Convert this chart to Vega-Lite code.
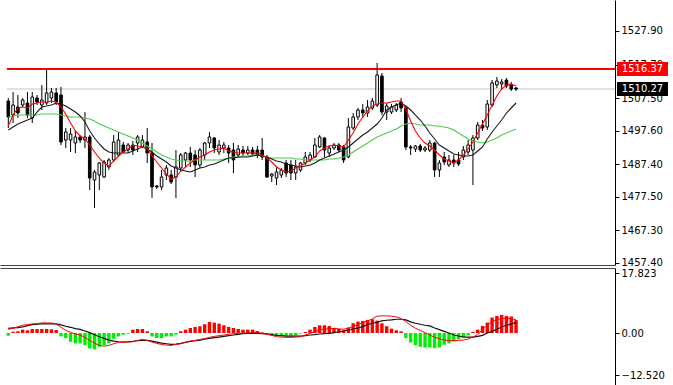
{
"$schema":"https://vega.github.io/schema/vega-lite/v6.json",
"padding":{"left":0,"top":0,"right":60,"bottom":0},
"background":"white",
"bounds":"flush",
"spacing":3,
"config":{"view":{"stroke":null},"axis":{"labelFont":"DejaVu Sans","labelFontSize":10,"labelColor":"#000","tickColor":"#000","domainColor":"#000","tickSize":4,"labelPadding":2,"labelOverlap":false,"labelFlush":false,"labelBound":false,"grid":false}},
"datasets":{
"candles":[
{"i":0,"o":1506.63,"h":1507.54,"l":1498.42,"c":1501.76,"mr":1499.03,"mk":1497.81,"mg":1501.76},
{"i":1,"o":1502.37,"h":1509.36,"l":1499.94,"c":1505.41,"mr":1502.37,"mk":1498.73,"mg":1502.07},
{"i":2,"o":1504.80,"h":1508.45,"l":1501.46,"c":1502.98,"mr":1504.50,"mk":1499.64,"mg":1502.37},
{"i":3,"o":1505.41,"h":1507.54,"l":1504.80,"c":1506.93,"mr":1504.80,"mk":1500.24,"mg":1502.37},
{"i":4,"o":1506.02,"h":1509.36,"l":1501.46,"c":1502.37,"mr":1504.50,"mk":1500.85,"mg":1502.37},
{"i":5,"o":1501.46,"h":1509.36,"l":1499.94,"c":1507.84,"mr":1505.71,"mk":1501.46,"mg":1502.37},
{"i":6,"o":1507.54,"h":1508.45,"l":1505.41,"c":1506.32,"mr":1506.02,"mk":1503.28,"mg":1502.37},
{"i":7,"o":1505.41,"h":1511.49,"l":1503.89,"c":1506.93,"mr":1506.32,"mk":1504.80,"mg":1502.68},
{"i":8,"o":1506.02,"h":1516.37,"l":1505.41,"c":1509.06,"mr":1506.32,"mk":1505.11,"mg":1502.68},
{"i":9,"o":1507.54,"h":1510.58,"l":1506.02,"c":1509.36,"mr":1506.63,"mk":1505.41,"mg":1502.68},
{"i":10,"o":1509.06,"h":1510.58,"l":1505.41,"c":1506.32,"mr":1506.32,"mk":1506.02,"mg":1502.68},
{"i":11,"o":1508.45,"h":1510.88,"l":1493.25,"c":1494.17,"mr":1504.80,"mk":1505.71,"mg":1502.37},
{"i":12,"o":1494.77,"h":1498.42,"l":1492.34,"c":1497.21,"mr":1502.68,"mk":1505.11,"mg":1502.07},
{"i":13,"o":1494.77,"h":1498.42,"l":1491.13,"c":1496.60,"mr":1499.94,"mk":1504.20,"mg":1501.76},
{"i":14,"o":1493.86,"h":1497.81,"l":1490.82,"c":1495.69,"mr":1497.51,"mk":1503.28,"mg":1501.76},
{"i":15,"o":1495.69,"h":1496.29,"l":1493.86,"c":1494.77,"mr":1495.99,"mk":1502.07,"mg":1501.76},
{"i":16,"o":1494.77,"h":1503.28,"l":1492.34,"c":1495.69,"mr":1495.08,"mk":1500.24,"mg":1501.46},
{"i":17,"o":1495.69,"h":1496.29,"l":1479.58,"c":1483.23,"mr":1493.25,"mk":1497.51,"mg":1501.16},
{"i":18,"o":1482.62,"h":1485.66,"l":1474.11,"c":1485.05,"mr":1491.13,"mk":1495.38,"mg":1500.55},
{"i":19,"o":1484.14,"h":1488.09,"l":1479.58,"c":1487.78,"mr":1489.30,"mk":1493.56,"mg":1499.64},
{"i":20,"o":1483.53,"h":1488.70,"l":1483.23,"c":1488.09,"mr":1487.78,"mk":1492.04,"mg":1499.03},
{"i":21,"o":1486.57,"h":1489.30,"l":1485.66,"c":1488.70,"mr":1486.87,"mk":1491.13,"mg":1498.42},
{"i":22,"o":1488.70,"h":1496.29,"l":1488.09,"c":1494.17,"mr":1488.39,"mk":1490.82,"mg":1497.81},
{"i":23,"o":1490.22,"h":1497.21,"l":1489.61,"c":1494.77,"mr":1489.91,"mk":1490.82,"mg":1497.21},
{"i":24,"o":1493.25,"h":1494.17,"l":1490.82,"c":1491.13,"mr":1491.13,"mk":1490.82,"mg":1496.60},
{"i":25,"o":1491.73,"h":1493.86,"l":1490.82,"c":1493.25,"mr":1492.04,"mk":1490.82,"mg":1495.99},
{"i":26,"o":1493.25,"h":1494.47,"l":1490.22,"c":1491.73,"mr":1493.25,"mk":1491.43,"mg":1495.38},
{"i":27,"o":1493.86,"h":1496.29,"l":1491.13,"c":1495.69,"mr":1492.95,"mk":1492.04,"mg":1494.77},
{"i":28,"o":1492.65,"h":1496.29,"l":1492.34,"c":1494.77,"mr":1492.65,"mk":1492.65,"mg":1493.86},
{"i":29,"o":1494.17,"h":1498.42,"l":1487.78,"c":1490.82,"mr":1492.34,"mk":1492.04,"mg":1492.95},
{"i":30,"o":1490.82,"h":1493.86,"l":1477.15,"c":1480.49,"mr":1489.91,"mk":1491.13,"mg":1492.04},
{"i":31,"o":1480.79,"h":1481.10,"l":1479.88,"c":1480.49,"mr":1488.09,"mk":1489.91,"mg":1491.13},
{"i":32,"o":1480.49,"h":1485.66,"l":1479.58,"c":1483.53,"mr":1486.26,"mk":1489.00,"mg":1490.22},
{"i":33,"o":1484.14,"h":1487.18,"l":1482.62,"c":1486.26,"mr":1484.44,"mk":1488.09,"mg":1489.61},
{"i":34,"o":1484.14,"h":1485.66,"l":1481.40,"c":1482.01,"mr":1482.92,"mk":1486.87,"mg":1489.00},
{"i":35,"o":1483.53,"h":1491.73,"l":1477.15,"c":1486.57,"mr":1483.53,"mk":1486.26,"mg":1488.70},
{"i":36,"o":1486.26,"h":1490.82,"l":1485.05,"c":1490.22,"mr":1485.35,"mk":1485.66,"mg":1488.39},
{"i":37,"o":1488.70,"h":1491.13,"l":1486.57,"c":1490.82,"mr":1486.57,"mk":1485.35,"mg":1488.39},
{"i":38,"o":1490.82,"h":1492.65,"l":1486.57,"c":1488.70,"mr":1487.78,"mk":1485.05,"mg":1488.39},
{"i":39,"o":1490.22,"h":1491.73,"l":1483.53,"c":1487.18,"mr":1488.70,"mk":1485.66,"mg":1488.70},
{"i":40,"o":1487.18,"h":1492.34,"l":1486.26,"c":1491.73,"mr":1489.61,"mk":1486.26,"mg":1488.70},
{"i":41,"o":1490.22,"h":1494.17,"l":1488.70,"c":1493.86,"mr":1490.22,"mk":1486.57,"mg":1488.70},
{"i":42,"o":1493.86,"h":1497.21,"l":1492.34,"c":1495.69,"mr":1491.13,"mk":1487.18,"mg":1488.70},
{"i":43,"o":1495.38,"h":1495.69,"l":1490.82,"c":1492.34,"mr":1491.73,"mk":1487.48,"mg":1488.70},
{"i":44,"o":1491.13,"h":1494.77,"l":1490.22,"c":1493.25,"mr":1492.04,"mk":1488.09,"mg":1488.70},
{"i":45,"o":1492.34,"h":1494.17,"l":1490.82,"c":1493.25,"mr":1492.34,"mk":1488.70,"mg":1489.00},
{"i":46,"o":1492.34,"h":1493.25,"l":1487.78,"c":1490.82,"mr":1491.43,"mk":1489.30,"mg":1489.30},
{"i":47,"o":1491.73,"h":1493.86,"l":1484.74,"c":1488.70,"mr":1491.13,"mk":1489.30,"mg":1489.61},
{"i":48,"o":1490.22,"h":1493.25,"l":1489.30,"c":1492.04,"mr":1490.82,"mk":1489.61,"mg":1489.61},
{"i":49,"o":1491.73,"h":1492.95,"l":1489.91,"c":1490.82,"mr":1490.82,"mk":1489.61,"mg":1489.91},
{"i":50,"o":1490.82,"h":1492.95,"l":1490.22,"c":1491.73,"mr":1490.82,"mk":1489.61,"mg":1489.91},
{"i":51,"o":1491.73,"h":1492.65,"l":1489.91,"c":1490.52,"mr":1490.82,"mk":1489.91,"mg":1490.22},
{"i":52,"o":1491.73,"h":1492.95,"l":1489.30,"c":1490.22,"mr":1490.82,"mk":1490.22,"mg":1490.22},
{"i":53,"o":1491.73,"h":1495.38,"l":1488.70,"c":1489.61,"mr":1490.22,"mk":1489.91,"mg":1489.91},
{"i":54,"o":1489.61,"h":1490.22,"l":1483.23,"c":1483.53,"mr":1489.30,"mk":1489.61,"mg":1489.61},
{"i":55,"o":1483.83,"h":1484.74,"l":1482.01,"c":1484.44,"mr":1488.09,"mk":1489.00,"mg":1489.30},
{"i":56,"o":1483.23,"h":1486.57,"l":1481.10,"c":1485.05,"mr":1486.57,"mk":1488.39,"mg":1489.30},
{"i":57,"o":1484.14,"h":1486.26,"l":1483.23,"c":1485.66,"mr":1485.66,"mk":1488.09,"mg":1489.30},
{"i":58,"o":1487.78,"h":1488.70,"l":1483.53,"c":1484.74,"mr":1485.05,"mk":1487.48,"mg":1489.30},
{"i":59,"o":1487.18,"h":1488.70,"l":1482.62,"c":1484.74,"mr":1485.35,"mk":1487.18,"mg":1489.30},
{"i":60,"o":1484.74,"h":1488.70,"l":1482.62,"c":1486.57,"mr":1486.26,"mk":1486.87,"mg":1489.00},
{"i":61,"o":1485.66,"h":1488.09,"l":1485.05,"c":1487.78,"mr":1486.87,"mk":1486.57,"mg":1489.00},
{"i":62,"o":1487.78,"h":1491.13,"l":1487.18,"c":1489.61,"mr":1487.78,"mk":1486.87,"mg":1488.70},
{"i":63,"o":1488.70,"h":1491.13,"l":1488.09,"c":1490.22,"mr":1488.70,"mk":1487.18,"mg":1488.70},
{"i":64,"o":1489.61,"h":1495.38,"l":1489.30,"c":1493.25,"mr":1489.61,"mk":1487.78,"mg":1488.70},
{"i":65,"o":1492.65,"h":1496.29,"l":1492.34,"c":1495.69,"mr":1491.43,"mk":1488.70,"mg":1488.70},
{"i":66,"o":1495.38,"h":1495.69,"l":1489.61,"c":1491.73,"mr":1492.34,"mk":1489.30,"mg":1488.70},
{"i":67,"o":1490.82,"h":1493.25,"l":1489.61,"c":1492.34,"mr":1492.95,"mk":1489.91,"mg":1489.00},
{"i":68,"o":1492.34,"h":1493.86,"l":1491.73,"c":1493.25,"mr":1493.25,"mk":1490.52,"mg":1489.00},
{"i":69,"o":1493.25,"h":1493.86,"l":1491.13,"c":1491.73,"mr":1492.95,"mk":1491.13,"mg":1489.30},
{"i":70,"o":1492.65,"h":1493.25,"l":1487.78,"c":1488.70,"mr":1492.65,"mk":1491.73,"mg":1489.61},
{"i":71,"o":1489.61,"h":1501.46,"l":1489.30,"c":1498.73,"mr":1494.77,"mk":1492.65,"mg":1490.22},
{"i":72,"o":1498.42,"h":1502.98,"l":1497.81,"c":1501.76,"mr":1496.90,"mk":1493.86,"mg":1491.13},
{"i":73,"o":1501.76,"h":1504.50,"l":1500.85,"c":1503.89,"mr":1499.64,"mk":1495.08,"mg":1492.04},
{"i":74,"o":1503.89,"h":1505.71,"l":1501.46,"c":1502.98,"mr":1501.76,"mk":1496.29,"mg":1492.95},
{"i":75,"o":1502.98,"h":1506.93,"l":1501.76,"c":1504.80,"mr":1503.59,"mk":1497.21,"mg":1493.86},
{"i":76,"o":1504.50,"h":1507.54,"l":1503.89,"c":1506.63,"mr":1505.11,"mk":1498.42,"mg":1494.77},
{"i":77,"o":1505.41,"h":1518.17,"l":1504.80,"c":1514.53,"mr":1505.71,"mk":1499.64,"mg":1495.69},
{"i":78,"o":1514.22,"h":1515.14,"l":1502.37,"c":1503.28,"mr":1506.02,"mk":1501.46,"mg":1496.29},
{"i":79,"o":1503.28,"h":1506.02,"l":1500.85,"c":1505.11,"mr":1506.02,"mk":1503.89,"mg":1496.90},
{"i":80,"o":1503.28,"h":1505.71,"l":1502.68,"c":1504.80,"mr":1506.32,"mk":1504.80,"mg":1497.51},
{"i":81,"o":1503.89,"h":1506.02,"l":1503.28,"c":1505.41,"mr":1506.63,"mk":1505.41,"mg":1498.12},
{"i":82,"o":1506.32,"h":1507.54,"l":1503.28,"c":1504.50,"mr":1506.63,"mk":1506.02,"mg":1499.03},
{"i":83,"o":1504.50,"h":1505.11,"l":1491.73,"c":1492.65,"mr":1504.20,"mk":1505.11,"mg":1499.64},
{"i":84,"o":1492.65,"h":1493.25,"l":1490.22,"c":1492.34,"mr":1500.55,"mk":1503.89,"mg":1499.94},
{"i":85,"o":1492.04,"h":1493.25,"l":1491.13,"c":1492.95,"mr":1497.51,"mk":1502.37,"mg":1499.64},
{"i":86,"o":1492.95,"h":1493.56,"l":1491.13,"c":1491.73,"mr":1495.38,"mk":1500.85,"mg":1499.33},
{"i":87,"o":1491.73,"h":1492.95,"l":1491.13,"c":1492.34,"mr":1493.86,"mk":1499.03,"mg":1499.33},
{"i":88,"o":1491.73,"h":1494.77,"l":1491.13,"c":1493.86,"mr":1492.95,"mk":1496.90,"mg":1499.33},
{"i":89,"o":1493.86,"h":1494.17,"l":1483.53,"c":1485.66,"mr":1491.73,"mk":1495.08,"mg":1499.03},
{"i":90,"o":1485.66,"h":1488.70,"l":1483.53,"c":1487.78,"mr":1490.22,"mk":1493.25,"mg":1499.03},
{"i":91,"o":1489.61,"h":1491.13,"l":1487.18,"c":1488.09,"mr":1489.00,"mk":1492.34,"mg":1498.73},
{"i":92,"o":1487.18,"h":1490.22,"l":1486.57,"c":1488.70,"mr":1488.39,"mk":1491.43,"mg":1498.42},
{"i":93,"o":1488.70,"h":1490.22,"l":1486.57,"c":1487.78,"mr":1487.78,"mk":1490.52,"mg":1497.81},
{"i":94,"o":1488.70,"h":1491.13,"l":1486.87,"c":1487.48,"mr":1488.70,"mk":1490.22,"mg":1496.90},
{"i":95,"o":1489.61,"h":1492.95,"l":1488.70,"c":1491.73,"mr":1490.22,"mk":1489.91,"mg":1495.99},
{"i":96,"o":1491.13,"h":1494.77,"l":1490.22,"c":1493.25,"mr":1492.04,"mk":1489.91,"mg":1495.08},
{"i":97,"o":1491.73,"h":1496.29,"l":1481.10,"c":1495.38,"mr":1494.17,"mk":1490.22,"mg":1494.47},
{"i":98,"o":1495.38,"h":1500.24,"l":1494.77,"c":1499.33,"mr":1496.90,"mk":1491.43,"mg":1494.17},
{"i":99,"o":1499.33,"h":1500.85,"l":1497.51,"c":1498.42,"mr":1499.64,"mk":1492.65,"mg":1493.86},
{"i":100,"o":1498.73,"h":1506.93,"l":1497.81,"c":1505.71,"mr":1502.37,"mk":1495.08,"mg":1494.17},
{"i":101,"o":1505.41,"h":1513.01,"l":1504.80,"c":1512.10,"mr":1505.41,"mk":1497.21,"mg":1494.77},
{"i":102,"o":1511.49,"h":1513.92,"l":1510.58,"c":1512.70,"mr":1508.15,"mk":1499.03,"mg":1495.38},
{"i":103,"o":1511.79,"h":1513.31,"l":1509.97,"c":1512.40,"mr":1510.27,"mk":1500.85,"mg":1496.29},
{"i":104,"o":1513.01,"h":1513.62,"l":1510.58,"c":1511.18,"mr":1511.49,"mk":1502.98,"mg":1496.90},
{"i":105,"o":1511.49,"h":1512.40,"l":1509.67,"c":1510.27,"mr":1511.79,"mk":1504.50,"mg":1497.51},
{"i":106,"o":1510.58,"h":1510.88,"l":1509.67,"c":1510.27,"mr":1511.18,"mk":1506.02,"mg":1498.12}
],
"macd":[
{"i":0,"h":-0.8,"m":1.1,"s":1.4},{"i":1,"h":0.4,"m":1.4,"s":1.5},{"i":2,"h":0.5,"m":1.9,"s":1.6},{"i":3,"h":1.0,"m":2.3,"s":1.8},{"i":4,"h":0.8,"m":2.5,"s":2.2},
{"i":5,"h":1.2,"m":2.7,"s":2.5},{"i":6,"h":1.2,"m":2.8,"s":2.6},{"i":7,"h":1.2,"m":3.0,"s":2.7},{"i":8,"h":1.2,"m":3.0,"s":2.7},{"i":9,"h":1.1,"m":3.0,"s":2.7},
{"i":10,"h":0.9,"m":2.7,"s":2.7},{"i":11,"h":-1.0,"m":1.7,"s":2.4},{"i":12,"h":-1.5,"m":0.8,"s":2.0},{"i":13,"h":-2.6,"m":0.2,"s":1.7},{"i":14,"h":-3.1,"m":-0.3,"s":1.3},
{"i":15,"h":-3.1,"m":-0.6,"s":1.1},{"i":16,"h":-3.6,"m":-1.3,"s":0.6},{"i":17,"h":-4.6,"m":-2.2,"s":0.1},{"i":18,"h":-4.9,"m":-3.0,"s":-0.5},{"i":19,"h":-4.1,"m":-3.7,"s":-1.1},
{"i":20,"h":-3.6,"m":-3.9,"s":-1.6},{"i":21,"h":-3.1,"m":-3.7,"s":-2.1},{"i":22,"h":-1.7,"m":-3.2,"s":-2.4},{"i":23,"h":-1.0,"m":-2.8,"s":-2.6},{"i":24,"h":-0.5,"m":-2.7,"s":-2.7},
{"i":25,"h":-0.2,"m":-2.7,"s":-2.6},{"i":26,"h":1.0,"m":-2.6,"s":-2.5},{"i":27,"h":1.2,"m":-2.2,"s":-2.3},{"i":28,"h":1.2,"m":-1.9,"s":-2.2},{"i":29,"h":0.5,"m":-2.2,"s":-2.2},
{"i":30,"h":-1.0,"m":-2.7,"s":-2.4},{"i":31,"h":-1.5,"m":-3.1,"s":-2.7},{"i":32,"h":-1.5,"m":-3.4,"s":-3.0},{"i":33,"h":-1.0,"m":-3.6,"s":-3.2},{"i":34,"h":-1.0,"m":-3.7,"s":-3.4},
{"i":35,"h":-0.5,"m":-3.4,"s":-3.3},{"i":36,"h":0.5,"m":-3.2,"s":-3.1},{"i":37,"h":1.0,"m":-2.7,"s":-2.8},{"i":38,"h":1.5,"m":-2.4,"s":-2.5},{"i":39,"h":1.8,"m":-2.2,"s":-2.3},
{"i":40,"h":2.0,"m":-1.9,"s":-2.1},{"i":41,"h":2.6,"m":-1.7,"s":-1.8},{"i":42,"h":3.3,"m":-1.3,"s":-1.6},{"i":43,"h":3.1,"m":-1.0,"s":-1.4},{"i":44,"h":2.8,"m":-0.8,"s":-1.2},
{"i":45,"h":2.3,"m":-0.6,"s":-1.0},{"i":46,"h":1.8,"m":-0.4,"s":-0.8},{"i":47,"h":1.5,"m":-0.2,"s":-0.6},{"i":48,"h":1.2,"m":-0.1,"s":-0.4},{"i":49,"h":1.0,"m":-0.1,"s":-0.2},
{"i":50,"h":1.0,"m":0.0,"s":-0.1},{"i":51,"h":1.0,"m":0.1,"s":-0.1},{"i":52,"h":0.6,"m":0.1,"s":-0.1},{"i":53,"h":0.2,"m":-0.1,"s":-0.2},{"i":54,"h":-0.5,"m":-0.4,"s":-0.3},
{"i":55,"h":-0.7,"m":-0.7,"s":-0.5},{"i":56,"h":-0.8,"m":-1.1,"s":-0.7},{"i":57,"h":-1.0,"m":-1.2,"s":-0.8},{"i":58,"h":-0.8,"m":-1.3,"s":-0.9},{"i":59,"h":-0.8,"m":-1.3,"s":-0.9},
{"i":60,"h":-0.7,"m":-1.2,"s":-0.9},{"i":61,"h":-0.2,"m":-1.1,"s":-0.9},{"i":62,"h":0.3,"m":-0.6,"s":-0.8},{"i":63,"h":1.0,"m":-0.1,"s":-0.6},{"i":64,"h":1.8,"m":0.4,"s":-0.5},
{"i":65,"h":2.3,"m":0.9,"s":-0.3},{"i":66,"h":2.3,"m":1.1,"s":-0.2},{"i":67,"h":2.1,"m":1.3,"s":-0.1},{"i":68,"h":1.5,"m":1.4,"s":0.1},{"i":69,"h":1.3,"m":1.2,"s":0.3},
{"i":70,"h":0.8,"m":1.1,"s":0.6},{"i":71,"h":1.6,"m":1.5,"s":0.9},{"i":72,"h":2.9,"m":1.9,"s":1.2},{"i":73,"h":3.4,"m":2.5,"s":1.5},{"i":74,"h":3.6,"m":3.1,"s":1.9},
{"i":75,"h":3.9,"m":3.6,"s":2.5},{"i":76,"h":4.1,"m":4.2,"s":2.9},{"i":77,"h":3.7,"m":5.0,"s":3.2},{"i":78,"h":2.9,"m":5.1,"s":3.6},{"i":79,"h":2.0,"m":5.1,"s":3.8},
{"i":80,"h":1.3,"m":5.0,"s":3.9},{"i":81,"h":0.8,"m":4.8,"s":4.1},{"i":82,"h":0.5,"m":4.3,"s":4.1},{"i":83,"h":-1.5,"m":3.4,"s":3.9},{"i":84,"h":-2.8,"m":2.3,"s":3.3},
{"i":85,"h":-3.6,"m":1.4,"s":2.9},{"i":86,"h":-4.1,"m":0.8,"s":2.6},{"i":87,"h":-4.3,"m":0.1,"s":2.3},{"i":88,"h":-4.3,"m":-0.6,"s":2.1},{"i":89,"h":-4.5,"m":-1.3,"s":1.5},
{"i":90,"h":-4.3,"m":-1.7,"s":1.0},{"i":91,"h":-3.5,"m":-2.1,"s":0.5},{"i":92,"h":-3.1,"m":-2.2,"s":0.0},{"i":93,"h":-2.5,"m":-2.3,"s":-0.6},{"i":94,"h":-1.9,"m":-2.2,"s":-0.9},
{"i":95,"h":-1.2,"m":-2.1,"s":-1.2},{"i":96,"h":-0.7,"m":-1.8,"s":-1.2},{"i":97,"h":0.3,"m":-1.2,"s":-1.2},{"i":98,"h":1.0,"m":-0.5,"s":-1.0},{"i":99,"h":2.1,"m":1.0,"s":-0.7},
{"i":100,"h":3.1,"m":2.4,"s":0.0},{"i":101,"h":4.6,"m":3.3,"s":0.5},{"i":102,"h":5.1,"m":4.0,"s":1.1},{"i":103,"h":5.4,"m":4.3,"s":1.8},{"i":104,"h":5.1,"m":4.4,"s":2.3},
{"i":105,"h":4.9,"m":4.3,"s":2.7},{"i":106,"h":3.9,"m":3.9,"s":3.1}
]
},
"vconcat":[
{
"width":615,"height":265,
"layer":[
{"data":{"values":[{"p":1510.27}]},"mark":{"type":"rule","color":"#c4c4c4","strokeWidth":1},
 "encoding":{"x":{"datum":-0.3,"type":"quantitative","scale":{"domain":[-1.733,126.66],"nice":false,"zero":false,"padding":0},"axis":{"orient":"bottom","labels":false,"ticks":false,"domain":true,"domainColor":"#444","title":null}},"x2":{"datum":126.66},
  "y":{"field":"p","type":"quantitative","scale":{"domain":[1456.79,1537.32],"nice":false,"zero":false},"axis":{"orient":"right","values":[1527.9,1517.7,1507.5,1497.6,1487.4,1477.5,1467.3,1457.4],"format":".2f","domain":true,"title":null}}}},
{"data":{"values":[{"p":1516.37}]},"mark":{"type":"rule","color":"#ff0000","strokeWidth":2},
 "encoding":{"x":{"datum":-0.3,"type":"quantitative","axis":{"orient":"bottom","labels":false,"ticks":false,"domain":true,"domainColor":"#444","title":null}},"x2":{"datum":126.66},
  "y":{"field":"p","type":"quantitative","axis":{"orient":"right","values":[1527.9,1517.7,1507.5,1497.6,1487.4,1477.5,1467.3,1457.4],"format":".2f","domain":true,"title":null}}}},
{"data":{"name":"candles"},"mark":{"type":"rule","color":"#000","strokeWidth":1},
 "encoding":{"x":{"field":"i","type":"quantitative","axis":{"orient":"bottom","labels":false,"ticks":false,"domain":true,"domainColor":"#444","title":null}},
  "y":{"field":"l","type":"quantitative","axis":{"orient":"right","values":[1527.9,1517.7,1507.5,1497.6,1487.4,1477.5,1467.3,1457.4],"format":".2f","domain":true,"title":null}},"y2":{"field":"h"}}},
{"data":{"name":"candles"},"mark":{"type":"bar","width":2.6,"stroke":"#000","strokeWidth":1},
 "encoding":{"x":{"field":"i","type":"quantitative","axis":{"orient":"bottom","labels":false,"ticks":false,"domain":true,"domainColor":"#444","title":null}},
  "y":{"field":"o","type":"quantitative","axis":{"orient":"right","values":[1527.9,1517.7,1507.5,1497.6,1487.4,1477.5,1467.3,1457.4],"format":".2f","domain":true,"title":null}},"y2":{"field":"c"},"fill":{"condition":{"test":"datum.c >= datum.o","value":"#ffffff"},"value":"#000000"}}},
{"data":{"name":"candles"},"mark":{"type":"line","color":"#4ccc4c","strokeWidth":1.1},
 "encoding":{"x":{"field":"i","type":"quantitative","axis":{"orient":"bottom","labels":false,"ticks":false,"domain":true,"domainColor":"#444","title":null}},
  "y":{"field":"mg","type":"quantitative","axis":{"orient":"right","values":[1527.9,1517.7,1507.5,1497.6,1487.4,1477.5,1467.3,1457.4],"format":".2f","domain":true,"title":null}}}},
{"data":{"name":"candles"},"mark":{"type":"line","color":"#1a1a1a","strokeWidth":1.1},
 "encoding":{"x":{"field":"i","type":"quantitative","axis":{"orient":"bottom","labels":false,"ticks":false,"domain":true,"domainColor":"#444","title":null}},
  "y":{"field":"mk","type":"quantitative","axis":{"orient":"right","values":[1527.9,1517.7,1507.5,1497.6,1487.4,1477.5,1467.3,1457.4],"format":".2f","domain":true,"title":null}}}},
{"data":{"name":"candles"},"mark":{"type":"line","color":"#ff0000","strokeWidth":1.1},
 "encoding":{"x":{"field":"i","type":"quantitative","axis":{"orient":"bottom","labels":false,"ticks":false,"domain":true,"domainColor":"#444","title":null}},
  "y":{"field":"mr","type":"quantitative","axis":{"orient":"right","values":[1527.9,1517.7,1507.5,1497.6,1487.4,1477.5,1467.3,1457.4],"format":".2f","domain":true,"title":null}}}},
{"data":{"values":[{"p":1516.37,"lab":"1516.37","hi":true},{"p":1510.27,"lab":"1510.27","hi":false}]},"mark":{"type":"rule","strokeWidth":14,"strokeCap":"butt"},
 "encoding":{"x":{"datum":127.08,"type":"quantitative","axis":{"orient":"bottom","labels":false,"ticks":false,"domain":true,"domainColor":"#444","title":null}},"x2":{"datum":137.72},
  "y":{"field":"p","type":"quantitative","axis":{"orient":"right","values":[1527.9,1517.7,1507.5,1497.6,1487.4,1477.5,1467.3,1457.4],"format":".2f","domain":true,"title":null}},"color":{"condition":{"test":"datum.hi","value":"#ff0000"},"value":"#000000"}}},
{"data":{"values":[{"p":1516.37,"lab":"1516.37"},{"p":1510.27,"lab":"1510.27"}]},"mark":{"type":"text","color":"#ffffff","font":"DejaVu Sans","fontSize":10,"align":"center","baseline":"middle"},
 "encoding":{"x":{"datum":132.4,"type":"quantitative","axis":{"orient":"bottom","labels":false,"ticks":false,"domain":true,"domainColor":"#444","title":null}},
  "y":{"field":"p","type":"quantitative","axis":{"orient":"right","values":[1527.9,1517.7,1507.5,1497.6,1487.4,1477.5,1467.3,1457.4],"format":".2f","domain":true,"title":null}},"text":{"field":"lab"}}}
]
},
{
"width":615,"height":120,
"data":{"name":"macd"},
"layer":[
{"mark":{"type":"bar","width":3.4},
 "encoding":{"x":{"field":"i","type":"quantitative","scale":{"domain":[-1.733,126.66],"nice":false,"zero":false,"padding":0},"axis":{"orient":"top","labels":false,"ticks":false,"domain":true,"domainColor":"#444","title":null}},
  "y":{"field":"h","type":"quantitative","scale":{"domain":[-16.36,19.34],"nice":false,"zero":false},"axis":{"orient":"right","values":[17.823,0,-12.52],"labelExpr":"datum.value == 0 ? '0.00' : format(datum.value, '.3f')","domain":true,"title":null}},"y2":{"datum":0},"color":{"condition":{"test":"datum.h > 0","value":"#ff0000"},"value":"#00ee00"}}},
{"mark":{"type":"line","color":"#111111","strokeWidth":1.2},
 "encoding":{"x":{"field":"i","type":"quantitative","axis":{"orient":"top","labels":false,"ticks":false,"domain":true,"domainColor":"#444","title":null}},
  "y":{"field":"s","type":"quantitative","axis":{"orient":"right","values":[17.823,0,-12.52],"labelExpr":"datum.value == 0 ? '0.00' : format(datum.value, '.3f')","domain":true,"title":null}}}},
{"mark":{"type":"line","color":"#ff0000","strokeWidth":1},
 "encoding":{"x":{"field":"i","type":"quantitative","axis":{"orient":"top","labels":false,"ticks":false,"domain":true,"domainColor":"#444","title":null}},
  "y":{"field":"m","type":"quantitative","axis":{"orient":"right","values":[17.823,0,-12.52],"labelExpr":"datum.value == 0 ? '0.00' : format(datum.value, '.3f')","domain":true,"title":null}}}}
]
}
]
}
